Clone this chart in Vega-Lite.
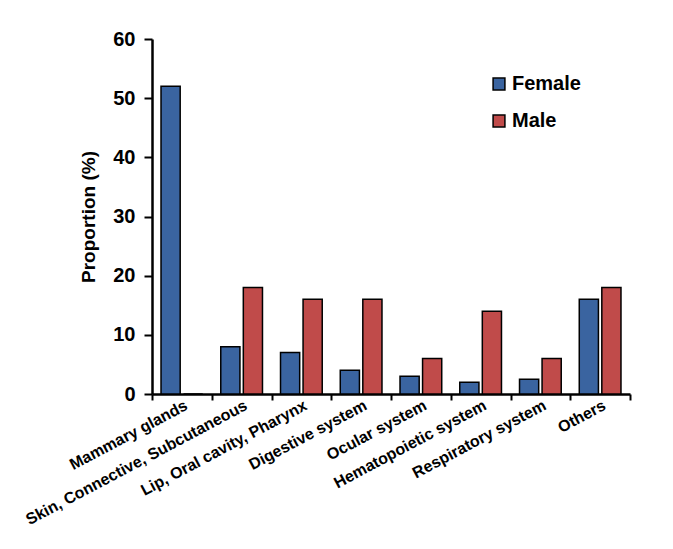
{
  "$schema": "https://vega.github.io/schema/vega-lite/v6.json",
  "width": 478,
  "height": 355,
  "autosize": "none",
  "padding": {"left": 152, "top": 39, "right": 43, "bottom": 155},
  "background": "white",
  "config": {"view": {"stroke": null}, "font": "Liberation Sans"},
  "data": {
    "values": [
      {"site": "Mammary glands", "sex": "Female", "value": 52},
      {"site": "Mammary glands", "sex": "Male", "value": 0},
      {"site": "Skin, Connective, Subcutaneous", "sex": "Female", "value": 8},
      {"site": "Skin, Connective, Subcutaneous", "sex": "Male", "value": 18},
      {"site": "Lip, Oral cavity, Pharynx", "sex": "Female", "value": 7},
      {"site": "Lip, Oral cavity, Pharynx", "sex": "Male", "value": 16},
      {"site": "Digestive system", "sex": "Female", "value": 4},
      {"site": "Digestive system", "sex": "Male", "value": 16},
      {"site": "Ocular system", "sex": "Female", "value": 3},
      {"site": "Ocular system", "sex": "Male", "value": 6},
      {"site": "Hematopoietic system", "sex": "Female", "value": 2},
      {"site": "Hematopoietic system", "sex": "Male", "value": 14},
      {"site": "Respiratory system", "sex": "Female", "value": 2.5},
      {"site": "Respiratory system", "sex": "Male", "value": 6},
      {"site": "Others", "sex": "Female", "value": 16},
      {"site": "Others", "sex": "Male", "value": 18}
    ]
  },
  "mark": {"type": "bar", "stroke": "black", "strokeWidth": 1.5, "cornerRadius": 0},
  "encoding": {
    "x": {
      "field": "site",
      "type": "nominal",
      "sort": null,
      "scale": {"paddingInner": 0, "paddingOuter": 0},
      "axis": {
        "title": null,
        "labelAngle": -28,
        "labelAlign": "right",
        "labelBaseline": "middle",
        "labelFontSize": 16,
        "labelFontWeight": "bold",
        "labelColor": "black",
        "labelPadding": 4,
        "labelOffset": 4,
        "tickBand": "extent",
        "tickColor": "black",
        "tickWidth": 2,
        "tickSize": 6,
        "domainColor": "black",
        "domainWidth": 2.5,
        "labelLimit": 400
      }
    },
    "xOffset": {
      "field": "sex",
      "type": "nominal",
      "scale": {"paddingInner": 0.15, "paddingOuter": 0.4}
    },
    "y": {
      "field": "value",
      "type": "quantitative",
      "scale": {"domain": [0, 60]},
      "axis": {
        "title": "Proportion (%)",
        "titleFontSize": 19,
        "titleFontWeight": "bold",
        "titleColor": "black",
        "titlePadding": 14,
        "values": [0, 10, 20, 30, 40, 50, 60],
        "grid": false,
        "labelFontSize": 20,
        "labelFontWeight": "bold",
        "labelColor": "black",
        "labelPadding": 9,
        "tickColor": "black",
        "tickWidth": 2,
        "tickSize": 8,
        "domainColor": "black",
        "domainWidth": 2.5
      }
    },
    "color": {
      "field": "sex",
      "type": "nominal",
      "scale": {"domain": ["Female", "Male"], "range": ["#3A64A0", "#C04B4A"]},
      "legend": {
        "title": null,
        "orient": "none",
        "legendX": 337,
        "legendY": 35,
        "symbolType": "square",
        "symbolSize": 140,
        "symbolStrokeColor": "black",
        "symbolStrokeWidth": 1.5,
        "labelFontSize": 20,
        "labelFontWeight": "bold",
        "labelColor": "black",
        "labelOffset": 3,
        "rowPadding": 17
      }
    }
  }
}
